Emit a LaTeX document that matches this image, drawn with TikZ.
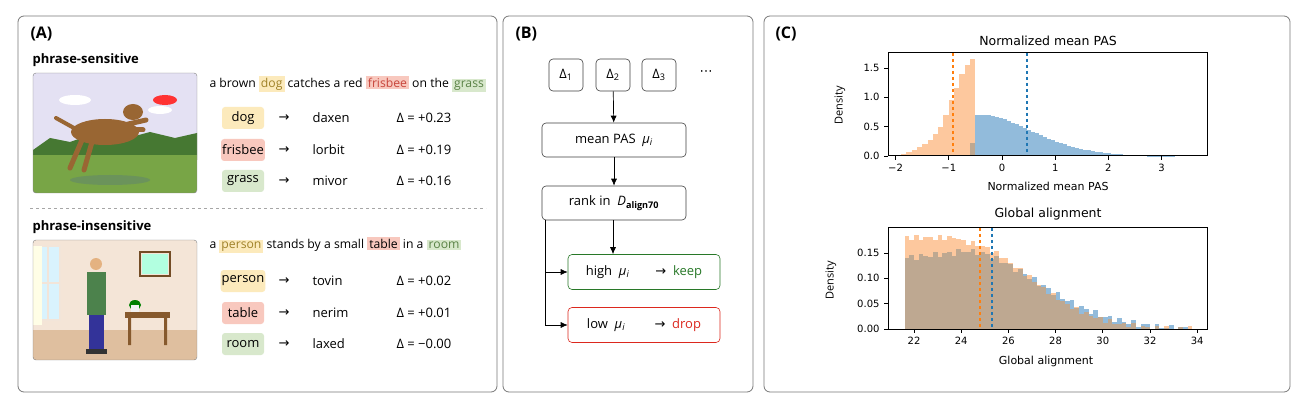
\documentclass[tikz,border=0pt]{standalone}
\usepackage{fontspec}
\setmainfont{Open Sans}
\newfontfamily\plotfont{DejaVu Sans}
\usetikzlibrary{arrows.meta}
\definecolor{frameg}{RGB}{120,120,120}
\definecolor{cy}{RGB}{252,234,188}
\definecolor{cr}{RGB}{248,200,190}
\definecolor{cg}{RGB}{216,232,204}
\definecolor{ty}{RGB}{160,130,40}
\definecolor{tr}{RGB}{200,70,60}
\definecolor{tg}{RGB}{90,130,70}
\definecolor{kgreen}{RGB}{40,120,40}
\definecolor{dred}{RGB}{220,40,30}
\definecolor{hb}{RGB}{146,187,219}
\definecolor{ho}{RGB}{253,200,158}
\definecolor{hbr}{RGB}{190,168,145}
\definecolor{mb}{RGB}{31,119,180}
\definecolor{mo}{RGB}{255,127,14}
\definecolor{grassg}{RGB}{120,165,70}
\definecolor{treeg}{RGB}{70,120,50}
\newcommand{\chipw}[3]{{\setlength\fboxsep{2pt}\colorbox{#1}{\textcolor{#2}{#3}}}}
\newcommand{\muI}{\textit{μ}\textsubscript{\textit{i}}}
\newcommand{\rar}{{\plotfont →}}
\tikzset{
 panel/.style={draw=frameg,rounded corners=6pt,line width=0.8pt},
 ttl/.style={font=\bfseries\fontsize{16}{18}\selectfont,anchor=west},
 sub/.style={font=\bfseries\fontsize{13}{15}\selectfont,anchor=west},
 txt/.style={font=\fontsize{13}{15}\selectfont},
 stxt/.style={font=\fontsize{12.2}{14}\selectfont},
 chip/.style={txt,rounded corners=3pt,minimum width=42pt,minimum height=22pt,inner sep=1pt},
 fbox/.style={draw=black!75,rounded corners=4pt,txt,line width=0.6pt},
 arr/.style={-{Latex[length=7pt,width=6pt]},line width=0.7pt},
 tk/.style={font=\plotfont\fontsize{10}{12}\selectfont},
}
\begin{document}
\begin{tikzpicture}[x=1pt,y=-1pt]
\useasboundingbox (0,0) rectangle (1304,406);
\fill[white] (0,0) rectangle (1304,406);
% panels
\draw[panel] (18,16) rectangle (497,392);
\draw[panel] (503,16) rectangle (753,392);
\draw[panel] (764,16) rectangle (1290,392);
\node[ttl] (tA) at (27,34) {(A)};
\node[ttl] (tB) at (512,34) {(B)};
\node[ttl] (tC) at (772,34) {(C)};
% ---------- Panel A ----------
\node[sub] (ps) at (29,60) {phrase-sensitive};
\node[sub] (pi) at (29,227) {phrase-insensitive};
\draw[dashed,gray!70,line width=0.6pt] (30,208) -- (486,208);
% dog image
\begin{scope}
\clip[rounded corners=3pt] (33,73) rectangle (197,193);
\fill[cyan!10!blue!10] (33,73) rectangle (197,193);
\fill[white] (75,100) ellipse (16 and 5); \fill[white] (160,110) ellipse (12 and 4);
\fill[treeg] (33,150) -- (50,138) -- (70,142) -- (90,135) -- (120,140) -- (150,132) -- (175,138) -- (197,133) -- (197,160) -- (33,160) -- cycle;
\fill[grassg] (33,155) rectangle (197,193);
\fill[treeg!80] (110,180) ellipse (40 and 5);
\fill[brown!80!black] (105,132) ellipse (34 and 13);
\fill[brown!80!black] (133,112) ellipse (10 and 8);
\draw[brown!80!black,line width=5pt,line cap=round] (82,140) -- (70,168);
\draw[brown!80!black,line width=5pt,line cap=round] (92,142) -- (84,170);
\draw[brown!80!black,line width=5pt,line cap=round] (124,125) -- (146,120);
\draw[brown!80!black,line width=5pt,line cap=round] (120,130) -- (143,130);
\draw[brown!80!black,line width=4pt,line cap=round] (74,128) -- (56,118);
\fill[red!80] (165,100) ellipse (12 and 5);
\end{scope}
\draw[gray,rounded corners=3pt] (33,73) rectangle (197,193);
% room image
\begin{scope}
\clip[rounded corners=3pt] (33,240) rectangle (197,360);
\fill[orange!15!brown!20!white] (33,240) rectangle (197,360);
\fill[brown!50!white] (33,330) rectangle (197,360);
\fill[cyan!15] (36,246) rectangle (60,320);
\draw[white!80!brown,line width=2pt] (36,246) rectangle (60,320) (48,246) -- (48,320) (36,283) -- (60,283);
\fill[white!90!yellow] (33,246) rectangle (42,325);
\draw[brown!60!black,line width=2pt] (140,252) rectangle (170,276);
\fill[green!40!cyan!30] (142,254) rectangle (168,274);
\fill[brown!70!black] (125,312) rectangle (170,318);
\fill[brown!70!black] (128,318) rectangle (131,345) (164,318) rectangle (167,345);
\fill[green!50!black] (135,305) ellipse (6 and 5);
\fill[white!90!gray] (131,305) rectangle (139,312);
\fill[orange!30!brown!60!white] (96,264) circle (6);
\fill[green!30!black!70] (87,272) rectangle (106,315);
\fill[blue!50!black!80] (89,315) rectangle (104,350);
\fill[black!80] (86,349) rectangle (107,354);
\end{scope}
\draw[gray,rounded corners=3pt] (33,240) rectangle (197,360);
% sentences
\node[stxt,anchor=west] (s1) at (206,84) {a brown \chipw{cy}{ty}{dog} catches a red \chipw{cr}{tr}{frisbee} on the \chipw{cg}{tg}{grass}};
\node[stxt,anchor=west] (s2) at (206,245) {a \chipw{cy}{ty}{person} stands by a small \chipw{cr}{black}{table} in a \chipw{cg}{tg}{room}};
% rows
\foreach \y/\c/\w/\n/\d/\nm in {118/cy/dog/daxen/+0.23/a1,150/cr/frisbee/lorbit/+0.19/a2,181/cg/grass/mivor/+0.16/a3,281/cy/person/tovin/+0.02/b1,313/cr/table/nerim/+0.01/b2,344/cg/room/laxed/−0.00/b3}{
 \node[chip,fill=\c] (c\nm) at (243,\y) {\w};
 \node[txt] (r\nm) at (284,\y) {\rar};
 \node[txt,anchor=west] (n\nm) at (309,\y) {\n};
 \node[txt,anchor=west] (d\nm) at (393,\y) {Δ = \d};
}
% ---------- Panel B ----------
\node[fbox,minimum width=34pt,minimum height=32pt] (d1) at (566,75) {Δ\textsubscript{1}};
\node[fbox,minimum width=34pt,minimum height=32pt] (d2) at (613,75) {Δ\textsubscript{2}};
\node[fbox,minimum width=34pt,minimum height=32pt] (d3) at (659,75) {Δ\textsubscript{3}};
\node[txt] (dots) at (706,73) {\plotfont ⋯};
\node[fbox,minimum width=144pt,minimum height=34pt] (mean) at (614,140) {mean PAS\ \ \muI};
\node[fbox,minimum width=144pt,minimum height=34pt] (rank) at (614,203) {rank in\ \ \textit{D}\textsubscript{\bfseries align70}};
\node[fbox,draw=kgreen,minimum width=152pt,minimum height=35pt] (keep) at (644,272) {high\ \ \muI\qquad \rar\ \ \textcolor{kgreen}{keep}};
\node[fbox,draw=dred,minimum width=152pt,minimum height=35pt] (drop) at (644,325) {low\ \ \muI\qquad\ \rar\ \ \textcolor{dred}{drop}};
\coordinate (kx) at (613,0);
\coordinate (lx) at (545,0);
\draw[arr] (d2) -- (mean);
\draw[arr] (mean) -- (rank);
\draw[arr] (rank.south -| kx) -- (keep.north -| kx);
\draw[line width=0.7pt] (rank.south -| lx) -- (drop.west -| lx);
\draw[arr] (keep.west -| lx) -- (keep.west);
\draw[arr] (drop.west -| lx) -- (drop.west);
% ---------- Panel C top ----------
\node[tk,font=\plotfont\fontsize{12.5}{14}\selectfont] (t1) at (1048,41) {Normalized mean PAS};
\foreach \h [count=\i] in {0.03,0.07,0.11,0.15,0.2,0.27,0.37,0.5,0.7,0.95,1.15,1.4,1.55,1.65}{
 \pgfmathsetmacro\xa{1002+53.2*(-1.9+0.1*(\i-1))}
 \pgfmathsetmacro\xb{1002+53.2*(-1.9+0.1*\i)}
 \pgfmathsetmacro\yy{156-58.7*\h}
 \fill[ho] (\xa,156) rectangle (\xb,\yy);
}
\fill[ho] ({1002+53.2*(-0.6)},156) rectangle ({1002+53.2*(-0.5)},{156-58.7*1.3});
\fill[hbr] ({1002+53.2*(-0.6)},156) rectangle ({1002+53.2*(-0.5)},{156-58.7*0.22});
\foreach \i in {0,...,49}{
 \pgfmathsetmacro\c{-0.5+0.075*\i+0.0375}
 \pgfmathsetmacro\h{0.7*exp(-pow(abs(\c+0.35)/1.35,1.8))}
 \pgfmathsetmacro\xa{1002+53.2*(-0.5+0.075*\i)}
 \pgfmathsetmacro\xb{1002+53.2*(-0.5+0.075*(\i+1))}
 \fill[hb] (\xa,156) rectangle (\xb,{156-58.7*\h});
}
\draw[mo,dashed,line width=1.3pt] (953,53) -- (953,156);
\draw[mb,dashed,line width=1.3pt] (1027,53) -- (1027,156);
\draw[line width=1pt] (888,53) rectangle (1207,156);
\foreach \v in {-2,-1,0,1,2,3}{
 \draw[line width=0.8pt] ({1002+53.2*\v},156) -- ({1002+53.2*\v},160);
 \node[tk,anchor=north] at ({1002+53.2*\v},161) {\ifnum\v<0 −\the\numexpr-\v\relax\else\v\fi};
}
\foreach \v/\l in {0/0.0,0.5/0.5,1/1.0,1.5/1.5}{
 \draw[line width=0.8pt] (884,{156-58.7*\v}) -- (888,{156-58.7*\v});
 \node[tk,anchor=east] at (883,{156-58.7*\v}) {\l};
}
\node[tk,rotate=90,font=\fontsize{11}{13}\selectfont] (yl1) at (840,105) {Density};
\node[tk,font=\plotfont\fontsize{11}{13}\selectfont] (xl1) at (1048,186) {Normalized mean PAS};
% ---------- Panel C bottom ----------
\node[tk,font=\plotfont\fontsize{12.5}{14}\selectfont] (t2) at (1048,214) {Global alignment};
\foreach \i in {0,...,60}{
 \pgfmathsetmacro\c{21.6+0.2*\i+0.1}
 \pgfmathsetmacro\hb{(\c<24 ? 0.14+0.012*(\c-21.6)/2.4 : 0.155*exp(-pow((\c-24)/4.5,2))) + 0.006*sin(\i*137)}
 \pgfmathsetmacro\ho{(\c<24 ? 0.18 : 0.172*exp(-pow((\c-24)/4.0,2))) + 0.005*sin(\i*211+40)}
 \pgfmathsetmacro\hm{min(\hb,\ho)}
 \pgfmathsetmacro\xa{914+23.6*(21.6+0.2*\i-22)}
 \pgfmathsetmacro\xb{914+23.6*(21.6+0.2*(\i+1)-22)}
 \fill[hb] (\xa,329) rectangle (\xb,{329-506.7*max(\hb,0)});
 \fill[ho] (\xa,329) rectangle (\xb,{329-506.7*max(\ho,0)});
 \fill[hbr] (\xa,329) rectangle (\xb,{329-506.7*max(\hm,0)});
}
\draw[mo,dashed,line width=1.3pt] (980,228) -- (980,329);
\draw[mb,dashed,line width=1.3pt] (992,228) -- (992,329);
\draw[line width=1pt] (888,228) rectangle (1207,329);
\foreach \v in {22,24,...,34}{
 \draw[line width=0.8pt] ({914+23.6*(\v-22)},329) -- ({914+23.6*(\v-22)},333);
 \node[tk,anchor=north] at ({914+23.6*(\v-22)},334) {\v};
}
\foreach \v/\l in {0/0.00,0.05/0.05,0.1/0.10,0.15/0.15}{
 \draw[line width=0.8pt] (884,{329-506.7*\v}) -- (888,{329-506.7*\v});
 \node[tk,anchor=east] at (883,{329-506.7*\v}) {\l};
}
\node[tk,rotate=90,font=\fontsize{11}{13}\selectfont] (yl2) at (831,280) {Density};
\node[tk,font=\plotfont\fontsize{11}{13}\selectfont] (xl2) at (1046,361) {Global alignment};
\end{tikzpicture}
\end{document}
